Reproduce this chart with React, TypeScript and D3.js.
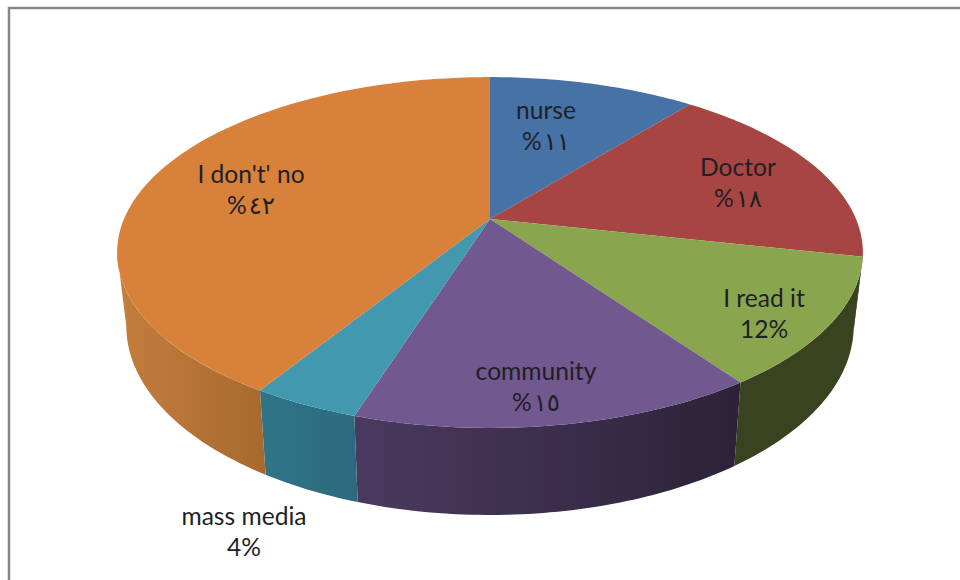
import React from "react";
import * as d3 from "d3";

// Slice names and the percentages printed beside them, clockwise from twelve o'clock.
const categories = ["nurse", "Doctor", "I read it", "community", "mass media", "I don't' no"];
const shares = [11, 18, 12, 15, 4, 42];
const shareLabels = ["%١١", "%١٨", "12%", "%١٥", "4%", "%٤٢"];

// Top-face colours and the left/right shades of the visible wall.
const topColors = ["#4672A6", "#A64542", "#89A54E", "#71588F", "#4198AF", "#D7813B"];
const wallLeft = ["#2F4A6E", "#6E2D2B", "#3A431F", "#4B3A60", "#2F7488", "#C47E3E"];
const wallRight = ["#2F4A6E", "#6E2D2B", "#3A431F", "#2C2238", "#2E6A7D", "#A86A2E"];

// Label baselines as offsets from the pie apex, in screen pixels.
const labelDx = [56, 248, 274, 46, -246, -239];
const labelDy = [-100, -43, 88, 161, 306, -36];

const WIDTH = 960;
const HEIGHT = 580;
const LINE_GAP = 31;

// Perspective projection of the unit disc onto the top and bottom rims.
const tilt = 0.191;
const top = { x0: 490, y0: 219, a: 366, b: 169 };
const bottom = { x0: 490, y0: 290, a: 357, b: 182 };

type Rim = typeof top;
const project = (rim: Rim, angle: number): [number, number] => {
  const u = Math.sin(angle);
  const v = -Math.cos(angle);
  const w = 1 - tilt * v;
  return [rim.x0 + (rim.a * u) / w, rim.y0 + (rim.b * v) / w];
};

// The wall is only seen between these angles, where the rim silhouette turns.
const wallStart = 1.76;
const wallEnd = 4.52;

const sampleArc = (rim: Rim, a0: number, a1: number): [number, number][] => {
  const n = Math.max(2, Math.ceil(Math.abs(a1 - a0) * 60));
  return d3.range(n + 1).map((i) => project(rim, a0 + ((a1 - a0) * i) / n));
};

const line = d3.line();

export default function App() {
  const slices = d3.pie<number>().sort(null)(shares);

  const walls = slices
    .map((s, i) => ({ i, a0: Math.max(s.startAngle, wallStart), a1: Math.min(s.endAngle, wallEnd) }))
    .filter((w) => w.a1 > w.a0);

  return (
    <svg
      width={WIDTH}
      height={HEIGHT}
      viewBox={`0 0 ${WIDTH} ${HEIGHT}`}
      style={{ position: "fixed", left: 0, top: 0, background: "#fff" }}
    >
      <defs>
        {walls.map((w) => {
          const xs = [project(top, w.a0)[0], project(top, w.a1)[0]];
          return (
            <linearGradient
              key={w.i}
              id={`wall-${w.i}`}
              gradientUnits="userSpaceOnUse"
              x1={Math.min(...xs)}
              x2={Math.max(...xs)}
              y1={0}
              y2={0}
            >
              <stop offset="0" stopColor={wallLeft[w.i]} />
              <stop offset="1" stopColor={wallRight[w.i]} />
            </linearGradient>
          );
        })}
      </defs>

      {/* chart frame */}
      <path d="M9 580V8H960" fill="none" stroke="#868686" strokeWidth={2.5} />

      {/* outer wall */}
      {walls.map((w) => (
        <path
          key={w.i}
          d={line([...sampleArc(top, w.a0, w.a1), ...sampleArc(bottom, w.a1, w.a0)])! + "Z"}
          fill={`url(#wall-${w.i})`}
        />
      ))}

      {/* top face */}
      {slices.map((s, i) => (
        <path
          key={i}
          d={line([[top.x0, top.y0], ...sampleArc(top, s.startAngle, s.endAngle)])! + "Z"}
          fill={topColors[i]}
        />
      ))}

      {/* data labels */}
      <g
        fontFamily="Lato, 'Open Sans', 'DejaVu Sans', sans-serif"
        fontSize={24.6}
        textAnchor="middle"
        fill="#1f1f26"
      >
        {categories.map((name, i) => (
          <text key={name} x={top.x0 + labelDx[i]} y={top.y0 + labelDy[i]}>
            <tspan x={top.x0 + labelDx[i]}>{name}</tspan>
            <tspan x={top.x0 + labelDx[i]} dy={LINE_GAP} letterSpacing={/\d%/.test(shareLabels[i]) ? 0 : 2}>
              {shareLabels[i]}
            </tspan>
          </text>
        ))}
      </g>
    </svg>
  );
}
